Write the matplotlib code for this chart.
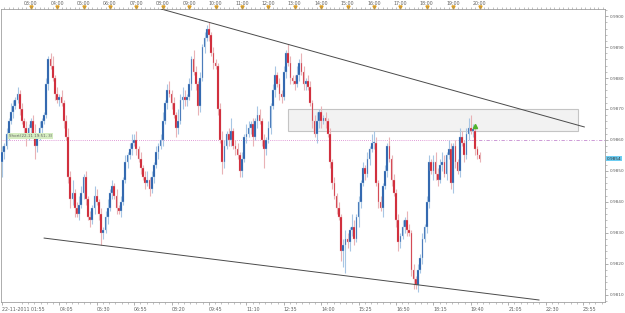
import numpy as np
import matplotlib.pyplot as plt
import matplotlib.transforms as mtransforms
from matplotlib.patches import Rectangle

# 5分钟K线收盘价 (22-11-2011)
closes = [
    0.9856, 0.9858, 0.9862, 0.9866, 0.9869, 0.9871, 0.9873, 0.9875, 0.9870, 0.9866,
    0.9864, 0.9861, 0.9864, 0.9866, 0.9862, 0.9858, 0.9861, 0.9864, 0.9866, 0.9868,
    0.9878, 0.9886, 0.9884, 0.9880, 0.9875, 0.9873, 0.9874, 0.9872, 0.9866, 0.9861,
    0.9848, 0.9841, 0.9843, 0.9838, 0.9836, 0.9839, 0.9843, 0.9848, 0.9841, 0.9835,
    0.9834, 0.9838, 0.9842, 0.9840, 0.9836, 0.9830, 0.9831, 0.9835, 0.9838, 0.9843,
    0.9845, 0.9842, 0.9838, 0.9837, 0.9840, 0.9847, 0.9853, 0.9855, 0.9857, 0.9859,
    0.9860, 0.9857, 0.9854, 0.9851, 0.9848, 0.9846, 0.9847, 0.9844, 0.9848, 0.9852,
    0.9856, 0.9858, 0.9860, 0.9866, 0.9872, 0.9876, 0.9875, 0.9872, 0.9868, 0.9864,
    0.9866, 0.9873, 0.9874, 0.9873, 0.9874, 0.9878, 0.9886, 0.9882, 0.9878, 0.9871,
    0.9880, 0.9890, 0.9893, 0.9896, 0.9894, 0.9888, 0.9885, 0.9884, 0.9870, 0.9860,
    0.9853, 0.9858, 0.9862, 0.9860, 0.9863, 0.9858, 0.9857, 0.9855, 0.9850, 0.9854,
    0.9861, 0.9862, 0.9864, 0.9865, 0.9861, 0.9866, 0.9868, 0.9866, 0.9860, 0.9857,
    0.9860, 0.9864, 0.9871, 0.9876, 0.9881, 0.9878, 0.9875, 0.9874, 0.9882, 0.9888,
    0.9885, 0.9880, 0.9879, 0.9878, 0.9881, 0.9885, 0.9882, 0.9878, 0.9879, 0.9877,
    0.9872, 0.9866, 0.9862, 0.9866, 0.9869, 0.9866, 0.9867, 0.9866, 0.9862, 0.9853,
    0.9846, 0.9842, 0.9838, 0.9835, 0.9824, 0.9826, 0.9828, 0.9827, 0.9831, 0.9832,
    0.9828, 0.9835, 0.9840, 0.9846, 0.9851, 0.9849, 0.9854, 0.9857, 0.9859, 0.9859,
    0.9846, 0.9840, 0.9838, 0.9845, 0.9850, 0.9858, 0.9854, 0.9847, 0.9843, 0.9834,
    0.9827, 0.9829, 0.9832, 0.9834, 0.9831, 0.9830, 0.9818, 0.9815, 0.9813, 0.9818,
    0.9822, 0.9828, 0.9832, 0.9840, 0.9853, 0.9850, 0.9853, 0.9849, 0.9847, 0.9852,
    0.9853, 0.9849, 0.9855, 0.9857, 0.9846, 0.9858, 0.9853, 0.9850, 0.9861, 0.9859,
    0.9855, 0.9862, 0.9864, 0.9863, 0.9863, 0.9857, 0.9855, 0.9854,
]
first_open = 0.9853

# 上下影线长度 (点, 1点 = 0.0001)
up_wick = [
    2, 1, 2, 1, 3, 2, 1, 2, 1, 2, 1, 2, 1, 1, 2, 3, 1, 2, 1, 1,
    2, 1, 2, 3, 1, 2, 1, 2, 1, 2, 3, 2, 4, 1, 2, 3, 2, 1, 2, 1,
    2, 1, 3, 2, 1, 2, 1, 2, 3, 1, 2, 1, 2, 1, 2, 1, 2, 1, 2, 3,
    2, 3, 1, 2, 1, 2, 3, 1, 2, 1, 2, 1, 2, 3, 1, 2, 3, 1, 2, 1,
    4, 2, 3, 2, 1, 2, 1, 3, 2, 1, 2, 1, 2, 1, 2, 1, 2, 1, 1, 2,
    3, 2, 1, 2, 4, 1, 2, 2, 1, 2, 1, 3, 2, 1, 2, 1, 3, 2, 1, 2,
    1, 2, 1, 2, 3, 1, 2, 1, 2, 1, 3, 2, 1, 2, 3, 1, 3, 2, 1, 2,
    2, 1, 2, 3, 1, 2, 1, 2, 1, 2, 1, 2, 1, 2, 1, 2, 3, 2, 1, 4,
    2, 1, 2, 1, 2, 1, 2, 1, 3, 4, 2, 1, 2, 1, 2, 1, 3, 1, 2, 1,
    2, 1, 2, 1, 3, 2, 1, 2, 1, 2, 1, 2, 1, 2, 2, 1, 2, 3, 2, 2,
    3, 2, 1, 3, 2, 1, 2, 1, 3, 2, 1, 2, 3, 4, 2, 1, 1, 1,
]
dn_wick = [
    5, 2, 1, 2, 1, 2, 1, 1, 2, 1, 2, 3, 1, 2, 1, 4, 2, 1, 2, 1,
    1, 2, 1, 1, 2, 1, 2, 1, 2, 1, 2, 3, 2, 3, 1, 2, 1, 2, 2, 1,
    2, 1, 2, 1, 2, 4, 2, 1, 2, 1, 2, 1, 2, 1, 2, 1, 1, 2, 1, 2,
    1, 2, 1, 2, 1, 2, 1, 2, 1, 2, 1, 2, 1, 2, 1, 2, 1, 2, 1, 3,
    2, 1, 3, 2, 2, 1, 2, 1, 2, 3, 2, 1, 2, 1, 2, 1, 2, 1, 2, 1,
    4, 2, 1, 2, 2, 1, 2, 1, 2, 2, 1, 2, 1, 2, 3, 1, 2, 1, 2, 6,
    2, 1, 2, 1, 2, 1, 2, 2, 1, 2, 1, 2, 1, 2, 1, 2, 1, 2, 2, 1,
    1, 2, 1, 3, 2, 2, 1, 2, 1, 2, 2, 1, 2, 1, 3, 5, 9, 2, 3, 2,
    2, 1, 3, 2, 1, 2, 1, 2, 1, 2, 1, 2, 1, 3, 1, 2, 1, 2, 1, 2,
    3, 2, 1, 2, 2, 1, 2, 3, 1, 2, 1, 2, 1, 2, 2, 1, 3, 2, 2, 1,
    2, 1, 2, 1, 2, 3, 2, 1, 2, 1, 2, 1, 2, 1, 2, 2, 1, 1,
]

# 坐标轴标签
hour_labels = ['%02d:00' % h for h in range(3, 21)]
hour_pos = [13 + 12 * k for k in range(len(hour_labels))]
bottom_labels = ['22-11-2011 01:55', '04:05', '05:30', '06:55', '08:20', '09:45',
                 '11:10', '12:35', '14:00', '15:25', '16:50', '18:15', '19:40',
                 '21:05', '22:30', '23:55']
bottom_pos = [0] + [26 + 17 * k for k in range(len(bottom_labels) - 1)]
price_ticks = [0.9810, 0.9820, 0.9830, 0.9840, 0.9850, 0.9860, 0.9870, 0.9880, 0.9890, 0.9900]

# 画线对象 (趋势线, 矩形, 水平线)
top_line = ([72.3, 264.6], [0.99023, 0.98642])
bottom_line = ([19.1, 244.0], [0.98283, 0.98083])
box_x = (130.0, 261.8)
box_y = (0.98629, 0.98700)
level = 0.9860
last_price = 0.9854
order_marker = (215, 0.98645)
order_text = 'Short(22-11 19:51, 3)'

n = len(closes)
c = np.array(closes)
o = np.concatenate([[first_open], c[:-1]])
hi = np.maximum(o, c) + np.array(up_wick) * 0.0001
lo = np.minimum(o, c) - np.array(dn_wick) * 0.0001
idx = np.arange(n)
bull = c >= o

fig = plt.figure(figsize=(6.25, 3.13), dpi=100)
ax = fig.add_axes([1 / 625, 11 / 313, 604 / 625, 293 / 313])
ax.set_xlim(-0.5, 274)
ax.set_ylim(0.980765, 0.99023)

# 矩形区域
ax.add_patch(Rectangle((box_x[0], box_y[0]), box_x[1] - box_x[0], box_y[1] - box_y[0],
                       facecolor='#f2f2f2', edgecolor='#c4c4c4', lw=0.8, zorder=1))

# 水平线
ax.plot([-0.5, 213], [level, level], color='#d77ccb', lw=0.6, ls=(0, (1, 1.5)), zorder=2)
ax.plot([213, 274], [level, level], color='#c58ad0', lw=0.6, ls=(0, (4, 2, 1, 2)), zorder=2)

# K线
wick_col = np.where(bull, '#a7c6e4', '#e9b2b6')
body_col = np.where(bull, '#1d56a6', '#cc1525')
ax.vlines(idx, lo, hi, colors=wick_col, lw=0.8, zorder=3)
heights = np.maximum(np.abs(c - o), 0.00004)
ax.bar(idx, heights, bottom=np.minimum(o, c), width=0.75, color=body_col,
       edgecolor=wick_col, linewidth=0.25, zorder=4)

# 趋势线
ax.plot(*top_line, color='#4a4a4a', lw=0.7, zorder=5)
ax.plot(*bottom_line, color='#4a4a4a', lw=0.7, zorder=5)

# 订单标记
ax.plot(*order_marker, marker='^', color='#4fb22c', ms=3, zorder=6)
ax.text(3, 0.98612, order_text, fontsize=2.9, color='#666666', va='center',
        bbox=dict(facecolor='#d4ecc0', edgecolor='none', pad=0.6), zorder=6)

# 边框
for s in ax.spines.values():
    s.set_color('#a0a0a0')
    s.set_linewidth(0.6)

# 右侧价格轴
ax.yaxis.tick_right()
ax.set_yticks(price_ticks)
ax.set_yticklabels(['%.4f' % p for p in price_ticks])
ax.set_yticks(np.arange(0.9808, 0.9903, 0.0002), minor=True)
ax.tick_params(axis='y', which='major', length=2.5, width=0.5, colors='#909090',
               labelsize=3.1, labelcolor='#606060', pad=0.8)
ax.tick_params(axis='y', which='minor', length=1.2, width=0.4, colors='#909090')
trans = mtransforms.blended_transform_factory(ax.transAxes, ax.transData)
ax.text(1.003, last_price, '%.4f' % last_price, transform=trans, fontsize=3.1,
        color='#303030', va='center', ha='left',
        bbox=dict(facecolor='#6ccdf2', edgecolor='none', pad=0.5))

# 底部时间轴
ax.set_xticks(bottom_pos)
ax.set_xticklabels(bottom_labels, ha='left')
ax.set_xticks(np.arange(9, 274, 17 / 6), minor=True)
ax.tick_params(axis='x', which='major', length=2.5, width=0.5, colors='#909090',
               labelsize=3.4, labelcolor='#606060', pad=1)
ax.tick_params(axis='x', which='minor', length=1.2, width=0.4, colors='#909090')

# 顶部时间轴
top = ax.twiny()
top.set_xlim(ax.get_xlim())
top.set_xticks(hour_pos)
top.set_xticklabels(hour_labels)
top.set_xticks(np.arange(1, 274, 2), minor=True)
top.tick_params(axis='x', which='major', length=2, width=0.5, colors='#909090',
                labelsize=3.4, labelcolor='#606060', pad=0.5)
top.tick_params(axis='x', which='minor', length=1.2, width=0.4, colors='#909090')
for s in top.spines.values():
    s.set_visible(False)
ttrans = mtransforms.blended_transform_factory(ax.transData, ax.transAxes)
ax.plot(hour_pos, [1.008] * len(hour_pos), ls='none', marker='v', ms=2.2,
        color='#e0a020', transform=ttrans, clip_on=False, zorder=7)

fig.savefig('out.png', dpi=100)
